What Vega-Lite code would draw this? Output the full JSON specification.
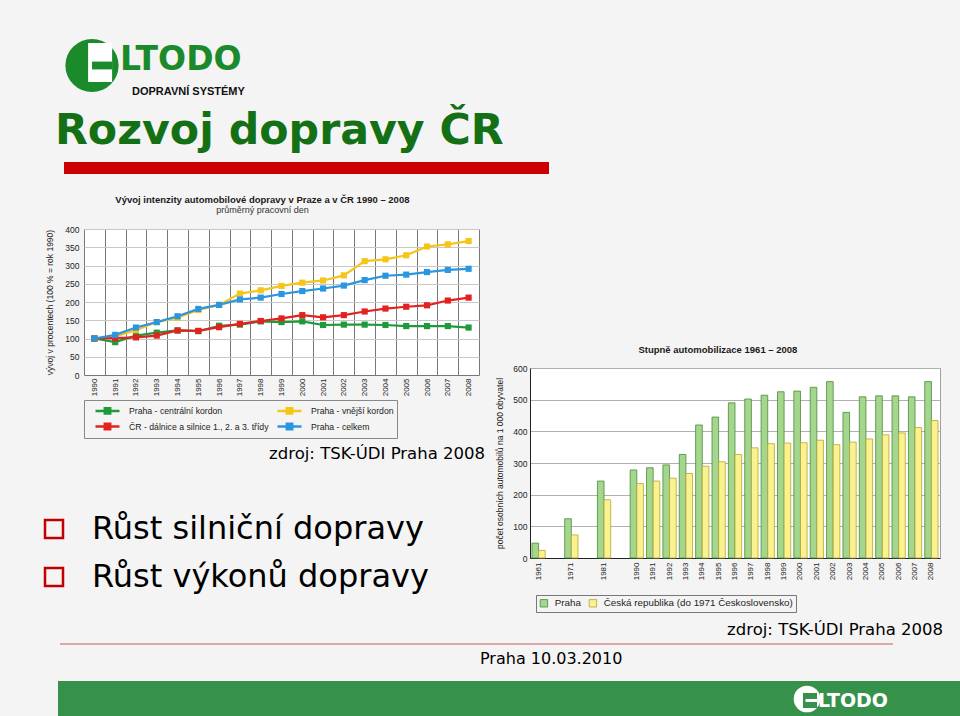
{
  "$schema": "https://vega.github.io/schema/vega-lite/v6.json",
  "background": "#f4f4f4",
  "padding": 0,
  "spacing": 0,
  "config": {
    "view": {"stroke": null},
    "concat": {"spacing": 0},
    "font": "Liberation Sans"
  },
  "resolve": {"scale": {"color": "independent", "fill": "independent", "stroke": "independent", "shape": "independent"}, "legend": {"color": "independent", "fill": "independent", "stroke": "independent", "shape": "independent"}},
  "vconcat": [
    {
      "width": 250,
      "height": 110,
      "data": {"values": [{"nazev": "LTODO", "podtitul": "DOPRAVNÍ SYSTÉMY"}]},
      "layer": [
        {"mark": {"type": "point", "shape": "circle", "size": 2830, "filled": true, "color": "#1b8a2b", "opacity": 1, "xOffset": -33, "yOffset": 10.5}, "encoding": {}},
        {"mark": {"type": "point", "shape": "M-0.13,-0.75H0.67V0.55H-0.13Z", "size": 3600, "filled": true, "color": "#ffffff", "opacity": 1, "strokeWidth": 0, "xOffset": -33, "yOffset": 10.5}, "encoding": {}},
        {"mark": {"type": "point", "shape": "M0,-0.13H0.67V0.13H0Z", "size": 3600, "filled": true, "color": "#1b8a2b", "opacity": 1, "strokeWidth": 0, "xOffset": -33, "yOffset": 10.5}, "encoding": {}},
        {"mark": {"type": "text", "font": "DejaVu Sans", "fontSize": 33, "fontWeight": "bold", "color": "#1b8a2b", "align": "left", "baseline": "alphabetic", "dx": -5, "dy": 15}, "encoding": {"text": {"field": "nazev"}}},
        {"mark": {"type": "text", "font": "Liberation Sans", "fontSize": 11, "fontWeight": "bold", "color": "#111111", "align": "left", "baseline": "alphabetic", "dx": 7, "dy": 40}, "encoding": {"text": {"field": "podtitul"}}}
      ]
    },
    {
      "hconcat": [
        {"width": 55, "height": 12, "data": {"values": []}, "mark": "point"},
        {
          "width": 485,
          "height": 12,
          "view": {"fill": "#cc0000", "stroke": null},
          "data": {"values": []},
          "mark": "point",
          "title": {"text": "Rozvoj dopravy ČR", "font": "DejaVu Sans", "fontSize": 42.7, "fontWeight": "bold", "color": "#147014", "anchor": "start", "offset": 9, "dx": -9}
        }
      ]
    },
    {
      "resolve": {"scale": {"color": "independent", "fill": "independent", "stroke": "independent", "shape": "independent"}, "legend": {"color": "independent", "fill": "independent", "stroke": "independent", "shape": "independent"}},
      "hconcat": [
        {
          "resolve": {"scale": {"color": "independent", "fill": "independent", "stroke": "independent", "shape": "independent"}, "legend": {"color": "independent", "fill": "independent", "stroke": "independent", "shape": "independent"}},
          "vconcat": [
            {"width": 1, "height": 20, "data": {"values": []}, "mark": "point"},
            {
              "resolve": {"scale": {"color": "independent", "shape": "independent"}, "legend": {"color": "independent", "shape": "independent"}},
              "hconcat": [
                {"width": 45, "height": 1, "data": {"values": []}, "mark": "point"},
                {
                  "width": 395,
                  "height": 146,
                  "view": {"fill": "#ffffff", "stroke": null},
                  "title": {"text": "Vývoj intenzity automobilové dopravy v Praze a v ČR 1990 – 2008", "subtitle": "průměrný  pracovní  den", "font": "Liberation Sans", "fontSize": 9.5, "fontWeight": "bold", "color": "#1a1a1a", "subtitleFont": "Liberation Sans", "subtitleFontSize": 9, "subtitleColor": "#333333", "subtitlePadding": 2, "anchor": "middle", "frame": "bounds", "offset": 10},
                  "data": {"values": [
                    {"rok": "1990", "rada": "Praha - centrální kordon", "index": 100},
                    {"rok": "1991", "rada": "Praha - centrální kordon", "index": 90},
                    {"rok": "1992", "rada": "Praha - centrální kordon", "index": 108},
                    {"rok": "1993", "rada": "Praha - centrální kordon", "index": 116},
                    {"rok": "1994", "rada": "Praha - centrální kordon", "index": 122},
                    {"rok": "1995", "rada": "Praha - centrální kordon", "index": 120},
                    {"rok": "1996", "rada": "Praha - centrální kordon", "index": 135},
                    {"rok": "1997", "rada": "Praha - centrální kordon", "index": 138},
                    {"rok": "1998", "rada": "Praha - centrální kordon", "index": 147},
                    {"rok": "1999", "rada": "Praha - centrální kordon", "index": 145},
                    {"rok": "2000", "rada": "Praha - centrální kordon", "index": 147},
                    {"rok": "2001", "rada": "Praha - centrální kordon", "index": 137},
                    {"rok": "2002", "rada": "Praha - centrální kordon", "index": 138},
                    {"rok": "2003", "rada": "Praha - centrální kordon", "index": 138},
                    {"rok": "2004", "rada": "Praha - centrální kordon", "index": 137},
                    {"rok": "2005", "rada": "Praha - centrální kordon", "index": 134},
                    {"rok": "2006", "rada": "Praha - centrální kordon", "index": 134},
                    {"rok": "2007", "rada": "Praha - centrální kordon", "index": 134},
                    {"rok": "2008", "rada": "Praha - centrální kordon", "index": 130},
                    {"rok": "1990", "rada": "Praha - vnější kordon", "index": 100},
                    {"rok": "1991", "rada": "Praha - vnější kordon", "index": 106},
                    {"rok": "1992", "rada": "Praha - vnější kordon", "index": 123},
                    {"rok": "1993", "rada": "Praha - vnější kordon", "index": 145},
                    {"rok": "1994", "rada": "Praha - vnější kordon", "index": 157},
                    {"rok": "1995", "rada": "Praha - vnější kordon", "index": 178},
                    {"rok": "1996", "rada": "Praha - vnější kordon", "index": 192},
                    {"rok": "1997", "rada": "Praha - vnější kordon", "index": 223},
                    {"rok": "1998", "rada": "Praha - vnější kordon", "index": 232},
                    {"rok": "1999", "rada": "Praha - vnější kordon", "index": 244},
                    {"rok": "2000", "rada": "Praha - vnější kordon", "index": 253},
                    {"rok": "2001", "rada": "Praha - vnější kordon", "index": 259},
                    {"rok": "2002", "rada": "Praha - vnější kordon", "index": 273},
                    {"rok": "2003", "rada": "Praha - vnější kordon", "index": 312},
                    {"rok": "2004", "rada": "Praha - vnější kordon", "index": 317},
                    {"rok": "2005", "rada": "Praha - vnější kordon", "index": 328},
                    {"rok": "2006", "rada": "Praha - vnější kordon", "index": 352},
                    {"rok": "2007", "rada": "Praha - vnější kordon", "index": 358},
                    {"rok": "2008", "rada": "Praha - vnější kordon", "index": 367},
                    {"rok": "1990", "rada": "ČR - dálnice a silnice 1., 2. a 3. třídy", "index": 100},
                    {"rok": "1991", "rada": "ČR - dálnice a silnice 1., 2. a 3. třídy", "index": 101},
                    {"rok": "1992", "rada": "ČR - dálnice a silnice 1., 2. a 3. třídy", "index": 103},
                    {"rok": "1993", "rada": "ČR - dálnice a silnice 1., 2. a 3. třídy", "index": 108},
                    {"rok": "1994", "rada": "ČR - dálnice a silnice 1., 2. a 3. třídy", "index": 122},
                    {"rok": "1995", "rada": "ČR - dálnice a silnice 1., 2. a 3. třídy", "index": 121},
                    {"rok": "1996", "rada": "ČR - dálnice a silnice 1., 2. a 3. třídy", "index": 131},
                    {"rok": "1997", "rada": "ČR - dálnice a silnice 1., 2. a 3. třídy", "index": 140},
                    {"rok": "1998", "rada": "ČR - dálnice a silnice 1., 2. a 3. třídy", "index": 148},
                    {"rok": "1999", "rada": "ČR - dálnice a silnice 1., 2. a 3. třídy", "index": 155},
                    {"rok": "2000", "rada": "ČR - dálnice a silnice 1., 2. a 3. třídy", "index": 164},
                    {"rok": "2001", "rada": "ČR - dálnice a silnice 1., 2. a 3. třídy", "index": 158},
                    {"rok": "2002", "rada": "ČR - dálnice a silnice 1., 2. a 3. třídy", "index": 164},
                    {"rok": "2003", "rada": "ČR - dálnice a silnice 1., 2. a 3. třídy", "index": 174},
                    {"rok": "2004", "rada": "ČR - dálnice a silnice 1., 2. a 3. třídy", "index": 182},
                    {"rok": "2005", "rada": "ČR - dálnice a silnice 1., 2. a 3. třídy", "index": 187},
                    {"rok": "2006", "rada": "ČR - dálnice a silnice 1., 2. a 3. třídy", "index": 191},
                    {"rok": "2007", "rada": "ČR - dálnice a silnice 1., 2. a 3. třídy", "index": 204},
                    {"rok": "2008", "rada": "ČR - dálnice a silnice 1., 2. a 3. třídy", "index": 212},
                    {"rok": "1990", "rada": "Praha - celkem", "index": 100},
                    {"rok": "1991", "rada": "Praha - celkem", "index": 110},
                    {"rok": "1992", "rada": "Praha - celkem", "index": 130},
                    {"rok": "1993", "rada": "Praha - celkem", "index": 145},
                    {"rok": "1994", "rada": "Praha - celkem", "index": 161},
                    {"rok": "1995", "rada": "Praha - celkem", "index": 181},
                    {"rok": "1996", "rada": "Praha - celkem", "index": 192},
                    {"rok": "1997", "rada": "Praha - celkem", "index": 207},
                    {"rok": "1998", "rada": "Praha - celkem", "index": 212},
                    {"rok": "1999", "rada": "Praha - celkem", "index": 222},
                    {"rok": "2000", "rada": "Praha - celkem", "index": 230},
                    {"rok": "2001", "rada": "Praha - celkem", "index": 237},
                    {"rok": "2002", "rada": "Praha - celkem", "index": 245},
                    {"rok": "2003", "rada": "Praha - celkem", "index": 260},
                    {"rok": "2004", "rada": "Praha - celkem", "index": 272},
                    {"rok": "2005", "rada": "Praha - celkem", "index": 275},
                    {"rok": "2006", "rada": "Praha - celkem", "index": 282},
                    {"rok": "2007", "rada": "Praha - celkem", "index": 288},
                    {"rok": "2008", "rada": "Praha - celkem", "index": 291}
                  ]},
                  "encoding": {
                    "x": {"field": "rok", "type": "ordinal", "title": null, "scale": {"type": "band", "paddingInner": 0, "paddingOuter": 0}, "axis": {"labelAngle": -90, "labelAlign": "right", "labelBaseline": "middle", "labelFontSize": 8, "labelColor": "#222222", "labelPadding": 3, "ticks": false, "tickBand": "extent", "grid": true, "gridColor": "#6a6a6a", "gridWidth": 0.9, "domain": true, "domainColor": "#777777"}},
                    "y": {"field": "index", "type": "quantitative", "scale": {"domain": [0, 400]}, "axis": {"title": "vývoj v procentech  (100 % = rok 1990)", "titleFontSize": 8.5, "titleFontWeight": "normal", "titleColor": "#222222", "titlePadding": 10, "values": [0, 50, 100, 150, 200, 250, 300, 350, 400], "labelFontSize": 8.5, "labelColor": "#222222", "labelPadding": 5, "ticks": false, "domain": false, "grid": true, "gridColor": "#c8c8c8"}},
                    "color": {"field": "rada", "type": "nominal", "scale": {"domain": ["Praha - centrální kordon", "Praha - vnější kordon", "ČR - dálnice a silnice 1., 2. a 3. třídy", "Praha - celkem"], "range": ["#1f9a3b", "#f5c518", "#e3221f", "#2a96e0"]}, "legend": {"title": null, "orient": "bottom", "direction": "horizontal", "columns": 2, "labelFontSize": 8.7, "labelColor": "#222222", "symbolType": "M-2,0H2M-0.45,-0.45H0.45V0.45H-0.45Z", "symbolSize": 144, "symbolStrokeWidth": 2.5, "symbolOffset": 13, "labelOffset": 14, "columnPadding": 0, "rowPadding": -6, "padding": 3, "offset": 4, "strokeColor": "#888888"}}
                  },
                  "layer": [
                    {"mark": {"type": "line", "strokeWidth": 2.2}},
                    {"mark": {"type": "square", "size": 38, "opacity": 1}}
                  ]
                }
              ]
            },
            {"width": 1, "height": 6, "data": {"values": []}, "mark": "point"},
            {
              "width": 485,
              "height": 1,
              "data": {"values": []},
              "mark": "point",
              "title": {"text": "zdroj: TSK-ÚDI Praha 2008", "font": "DejaVu Sans", "fontSize": 16.5, "fontWeight": "normal", "color": "#000000", "anchor": "end", "offset": 2}
            },
            {"width": 1, "height": 45, "data": {"values": []}, "mark": "point"},
            {
              "resolve": {"scale": {"shape": "independent"}, "legend": {"shape": "independent"}},
              "hconcat": [
                {"width": 34, "height": 1, "data": {"values": []}, "mark": "point"},
                {
                  "width": 1,
                  "height": 1,
                  "data": {"values": [{"bod": "Růst silniční dopravy"}, {"bod": "Růst výkonů dopravy"}]},
                  "mark": {"type": "point", "filled": false, "color": "#c00000", "opacity": 0, "strokeWidth": 2.5},
                  "encoding": {
                    "shape": {"field": "bod", "type": "nominal", "sort": null, "scale": {"range": ["square", "square"]}, "legend": {"title": null, "orient": "right", "offset": 0, "padding": 0, "symbolSize": 324, "symbolStrokeWidth": 2.5, "symbolStrokeColor": "#c00000", "symbolFillColor": "transparent", "symbolOpacity": 1, "labelFont": "DejaVu Sans", "labelFontSize": 32, "labelColor": "#000000", "labelOffset": 22, "labelLimit": 0, "rowPadding": 16}}
                  }
                }
              ]
            }
          ]
        },
        {
          "resolve": {"scale": {"fill": "independent", "stroke": "independent"}, "legend": {"fill": "independent", "stroke": "independent"}},
          "hconcat": [
            {"width": 10, "height": 1, "data": {"values": []}, "mark": "point"},
            {
              "resolve": {"scale": {"fill": "independent", "stroke": "independent"}, "legend": {"fill": "independent", "stroke": "independent"}},
              "vconcat": [
                {"width": 1, "height": 170, "data": {"values": []}, "mark": "point"},
                {
                  "width": 410,
                  "height": 190,
                  "view": {"fill": "#ffffff", "stroke": "#a0a0a0"},
                  "title": {"text": "Stupně automobilizace 1961 – 2008", "font": "Liberation Sans", "fontSize": 9.5, "fontWeight": "bold", "color": "#1a1a1a", "anchor": "middle", "frame": "bounds", "offset": 10},
                  "data": {"values": [
                    {"rok": "1961", "oblast": "Praha", "pocet": 47},
                    {"rok": "1971", "oblast": "Praha", "pocet": 124},
                    {"rok": "1981", "oblast": "Praha", "pocet": 243},
                    {"rok": "1990", "oblast": "Praha", "pocet": 278},
                    {"rok": "1991", "oblast": "Praha", "pocet": 285},
                    {"rok": "1992", "oblast": "Praha", "pocet": 294},
                    {"rok": "1993", "oblast": "Praha", "pocet": 327},
                    {"rok": "1994", "oblast": "Praha", "pocet": 420},
                    {"rok": "1995", "oblast": "Praha", "pocet": 445},
                    {"rok": "1996", "oblast": "Praha", "pocet": 490},
                    {"rok": "1997", "oblast": "Praha", "pocet": 502},
                    {"rok": "1998", "oblast": "Praha", "pocet": 514},
                    {"rok": "1999", "oblast": "Praha", "pocet": 525},
                    {"rok": "2000", "oblast": "Praha", "pocet": 527},
                    {"rok": "2001", "oblast": "Praha", "pocet": 539},
                    {"rok": "2002", "oblast": "Praha", "pocet": 557},
                    {"rok": "2003", "oblast": "Praha", "pocet": 460},
                    {"rok": "2004", "oblast": "Praha", "pocet": 509},
                    {"rok": "2005", "oblast": "Praha", "pocet": 512},
                    {"rok": "2006", "oblast": "Praha", "pocet": 512},
                    {"rok": "2007", "oblast": "Praha", "pocet": 509},
                    {"rok": "2008", "oblast": "Praha", "pocet": 557},
                    {"rok": "1961", "oblast": "Česká republika (do 1971 Československo)", "pocet": 24},
                    {"rok": "1971", "oblast": "Česká republika (do 1971 Československo)", "pocet": 73},
                    {"rok": "1981", "oblast": "Česká republika (do 1971 Československo)", "pocet": 184},
                    {"rok": "1990", "oblast": "Česká republika (do 1971 Československo)", "pocet": 235},
                    {"rok": "1991", "oblast": "Česká republika (do 1971 Československo)", "pocet": 243},
                    {"rok": "1992", "oblast": "Česká republika (do 1971 Československo)", "pocet": 252},
                    {"rok": "1993", "oblast": "Česká republika (do 1971 Československo)", "pocet": 267},
                    {"rok": "1994", "oblast": "Česká republika (do 1971 Československo)", "pocet": 290},
                    {"rok": "1995", "oblast": "Česká republika (do 1971 Československo)", "pocet": 304},
                    {"rok": "1996", "oblast": "Česká republika (do 1971 Československo)", "pocet": 327},
                    {"rok": "1997", "oblast": "Česká republika (do 1971 Československo)", "pocet": 348},
                    {"rok": "1998", "oblast": "Česká republika (do 1971 Československo)", "pocet": 361},
                    {"rok": "1999", "oblast": "Česká republika (do 1971 Československo)", "pocet": 363},
                    {"rok": "2000", "oblast": "Česká republika (do 1971 Československo)", "pocet": 364},
                    {"rok": "2001", "oblast": "Česká republika (do 1971 Československo)", "pocet": 372},
                    {"rok": "2002", "oblast": "Česká republika (do 1971 Československo)", "pocet": 358},
                    {"rok": "2003", "oblast": "Česká republika (do 1971 Československo)", "pocet": 366},
                    {"rok": "2004", "oblast": "Česká republika (do 1971 Československo)", "pocet": 376},
                    {"rok": "2005", "oblast": "Česká republika (do 1971 Československo)", "pocet": 389},
                    {"rok": "2006", "oblast": "Česká republika (do 1971 Československo)", "pocet": 395},
                    {"rok": "2007", "oblast": "Česká republika (do 1971 Československo)", "pocet": 412},
                    {"rok": "2008", "oblast": "Česká republika (do 1971 Československo)", "pocet": 434}
                  ]},
                  "mark": {"type": "bar", "strokeWidth": 0.8},
                  "encoding": {
                    "x": {"field": "rok", "type": "nominal", "title": null, "scale": {"domain": ["1961", " ", "1971", "  ", "1981", "   ", "1990", "1991", "1992", "1993", "1994", "1995", "1996", "1997", "1998", "1999", "2000", "2001", "2002", "2003", "2004", "2005", "2006", "2007", "2008"], "paddingInner": 0.19, "paddingOuter": 0.12}, "axis": {"labelAngle": -90, "labelAlign": "right", "labelBaseline": "middle", "labelFontSize": 8, "labelColor": "#222222", "labelPadding": 4, "ticks": false, "domainColor": "#222222", "domainWidth": 1.2}},
                    "xOffset": {"field": "oblast", "type": "nominal", "scale": {"domain": ["Praha", "Česká republika (do 1971 Československo)"]}},
                    "y": {"field": "pocet", "type": "quantitative", "scale": {"domain": [0, 600]}, "axis": {"title": "počet osobních automobilů na 1 000 obyvatel", "titleFontSize": 8.5, "titleFontWeight": "normal", "titleColor": "#222222", "titlePadding": 8, "values": [0, 100, 200, 300, 400, 500, 600], "labelFontSize": 8.5, "labelColor": "#222222", "labelPadding": 3, "ticks": false, "domain": true, "domainColor": "#222222", "grid": true, "gridColor": "#b0b0b0"}},
                    "fill": {"field": "oblast", "type": "nominal", "scale": {"domain": ["Praha", "Česká republika (do 1971 Československo)"], "range": ["#a5d68e", "#faf18f"]}, "legend": {"title": null, "orient": "none", "legendX": 6, "legendY": 227, "direction": "horizontal", "symbolType": "square", "symbolSize": 55, "symbolStrokeWidth": 0.8, "labelFontSize": 9.8, "labelColor": "#222222", "labelLimit": 0, "labelOffset": 6, "columnPadding": 6, "padding": 3, "strokeColor": "#777777"}},
                    "stroke": {"field": "oblast", "type": "nominal", "scale": {"domain": ["Praha", "Česká republika (do 1971 Československo)"], "range": ["#4a8a3a", "#b5a53a"]}, "legend": {"title": null, "orient": "none", "legendX": 6, "legendY": 227, "direction": "horizontal", "symbolType": "square", "symbolSize": 55, "symbolStrokeWidth": 0.8, "labelFontSize": 9.8, "labelColor": "#222222", "labelLimit": 0, "labelOffset": 6, "columnPadding": 6, "padding": 3, "strokeColor": "#777777"}}
                  }
                },
                {"width": 1, "height": 8, "data": {"values": []}, "mark": "point"},
                {
                  "width": 413,
                  "height": 1,
                  "data": {"values": []},
                  "mark": "point",
                  "title": {"text": "zdroj: TSK-ÚDI Praha 2008", "font": "DejaVu Sans", "fontSize": 16.5, "fontWeight": "normal", "color": "#000000", "anchor": "end", "offset": 2}
                }
              ]
            }
          ]
        }
      ]
    },
    {"width": 1, "height": 2, "data": {"values": []}, "mark": "point"},
    {
      "hconcat": [
        {"width": 60, "height": 2, "data": {"values": []}, "mark": "point"},
        {"width": 833, "height": 2, "view": {"fill": "#dca7a7", "stroke": null}, "data": {"values": []}, "mark": "point"}
      ]
    },
    {"width": 1, "height": 6, "data": {"values": []}, "mark": "point"},
    {
      "hconcat": [
        {"width": 480, "height": 1, "data": {"values": []}, "mark": "point"},
        {"width": 142, "height": 1, "data": {"values": []}, "mark": "point", "title": {"text": "Praha 10.03.2010", "font": "DejaVu Sans", "fontSize": 16, "fontWeight": "normal", "color": "#000000", "anchor": "start", "offset": 2}}
      ]
    },
    {"width": 1, "height": 11, "data": {"values": []}, "mark": "point"},
    {
      "hconcat": [
        {"width": 58, "height": 36, "data": {"values": []}, "mark": "point"},
        {
          "width": 902,
          "height": 36,
          "view": {"fill": "#36924a", "stroke": null},
          "data": {"values": [{"nazev": "LTODO"}]},
          "layer": [
            {"mark": {"type": "point", "shape": "circle", "size": 707, "filled": true, "color": "#ffffff", "opacity": 1, "xOffset": 298, "yOffset": 0}, "encoding": {}},
            {"mark": {"type": "point", "shape": "M-0.27,-0.4H0.67V0.6H-0.27Z", "size": 900, "filled": true, "color": "#36924a", "opacity": 1, "strokeWidth": 0, "xOffset": 298, "yOffset": 0}, "encoding": {}},
            {"mark": {"type": "point", "shape": "M-0.1,0H0.67V0.2H-0.1Z", "size": 900, "filled": true, "color": "#ffffff", "opacity": 1, "strokeWidth": 0, "xOffset": 298, "yOffset": 0}, "encoding": {}},
            {"mark": {"type": "text", "font": "DejaVu Sans", "fontSize": 19, "fontWeight": "bold", "color": "#ffffff", "align": "left", "baseline": "alphabetic", "dx": 309, "dy": 8}, "encoding": {"text": {"field": "nazev"}}}
          ]
        }
      ]
    }
  ]
}
